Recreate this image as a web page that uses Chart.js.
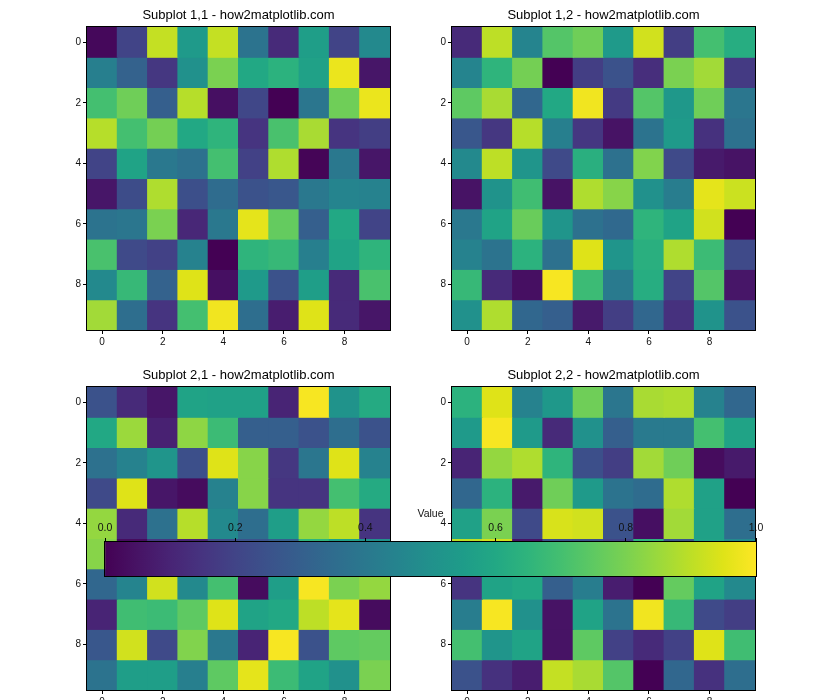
<!DOCTYPE html>
<html lang="en">
  <head>
    <meta charset="UTF-8" />
    <title>Subplots heatmap</title>
    <script src="https://cdn.jsdelivr.net/npm/chart.js@4.4.0/dist/chart.umd.min.js"></script>
    <style>
      body { margin: 0; width: 840px; height: 700px; overflow: hidden; background: #fff; position: relative; }
      canvas { position: absolute; }
    </style>
  </head>
  <body>
    <canvas id="c11" width="383" height="363" style="left:47px;top:-3px"></canvas>
    <canvas id="c12" width="383" height="363" style="left:412px;top:-3px"></canvas>
    <canvas id="c21" width="383" height="363" style="left:47px;top:357px"></canvas>
    <canvas id="c22" width="383" height="363" style="left:412px;top:357px"></canvas>
    <canvas id="cbar" width="691" height="78" style="left:85px;top:500px"></canvas>

    <script>
      // 10x10 values per subplot, row 0 at the top
      const sub11 = [
        [0.02, 0.20, 0.91, 0.54, 0.91, 0.38, 0.12, 0.56, 0.20, 0.47],
        [0.43, 0.31, 0.16, 0.50, 0.80, 0.60, 0.64, 0.57, 0.97, 0.06],
        [0.70, 0.78, 0.30, 0.89, 0.04, 0.21, 0.00, 0.39, 0.78, 0.97],
        [0.89, 0.70, 0.79, 0.60, 0.65, 0.15, 0.71, 0.87, 0.15, 0.18],
        [0.20, 0.58, 0.40, 0.37, 0.70, 0.19, 0.88, 0.01, 0.40, 0.06],
        [0.06, 0.23, 0.88, 0.24, 0.35, 0.25, 0.27, 0.40, 0.45, 0.44],
        [0.38, 0.39, 0.80, 0.11, 0.40, 0.96, 0.76, 0.30, 0.60, 0.20],
        [0.71, 0.22, 0.19, 0.44, 0.00, 0.65, 0.67, 0.43, 0.58, 0.65],
        [0.47, 0.67, 0.31, 0.95, 0.04, 0.54, 0.25, 0.56, 0.12, 0.71],
        [0.86, 0.36, 0.15, 0.70, 0.98, 0.36, 0.08, 0.95, 0.12, 0.06],
      ];
      const sub12 = [
        [0.12, 0.90, 0.45, 0.73, 0.78, 0.54, 0.93, 0.18, 0.70, 0.62],
        [0.45, 0.65, 0.79, 0.00, 0.18, 0.25, 0.13, 0.80, 0.86, 0.17],
        [0.75, 0.87, 0.33, 0.60, 0.98, 0.17, 0.73, 0.53, 0.78, 0.39],
        [0.27, 0.16, 0.89, 0.43, 0.16, 0.05, 0.38, 0.54, 0.14, 0.37],
        [0.47, 0.90, 0.52, 0.22, 0.63, 0.37, 0.81, 0.22, 0.07, 0.05],
        [0.05, 0.51, 0.69, 0.05, 0.88, 0.82, 0.50, 0.42, 0.96, 0.92],
        [0.40, 0.58, 0.77, 0.52, 0.37, 0.34, 0.65, 0.58, 0.93, 0.00],
        [0.44, 0.38, 0.64, 0.37, 0.95, 0.52, 0.63, 0.88, 0.68, 0.22],
        [0.67, 0.12, 0.04, 0.99, 0.68, 0.41, 0.62, 0.20, 0.73, 0.06],
        [0.50, 0.88, 0.33, 0.30, 0.07, 0.18, 0.33, 0.14, 0.51, 0.25],
      ];
      const sub21 = [
        [0.25, 0.12, 0.06, 0.58, 0.57, 0.57, 0.10, 0.99, 0.51, 0.61],
        [0.60, 0.85, 0.09, 0.83, 0.68, 0.30, 0.30, 0.25, 0.36, 0.25],
        [0.37, 0.44, 0.52, 0.24, 0.95, 0.82, 0.16, 0.39, 0.95, 0.44],
        [0.22, 0.95, 0.06, 0.03, 0.44, 0.82, 0.15, 0.15, 0.70, 0.61],
        [0.84, 0.12, 0.37, 0.89, 0.47, 0.36, 0.56, 0.84, 0.90, 0.15],
        [0.82, 0.03, 0.16, 0.10, 0.23, 0.25, 0.30, 0.65, 0.57, 0.50],
        [0.33, 0.45, 0.93, 0.47, 0.70, 0.03, 0.56, 0.99, 0.80, 0.84],
        [0.10, 0.69, 0.68, 0.75, 0.95, 0.58, 0.60, 0.90, 0.96, 0.03],
        [0.27, 0.93, 0.22, 0.81, 0.40, 0.10, 0.99, 0.25, 0.75, 0.76],
        [0.38, 0.56, 0.56, 0.43, 0.75, 0.96, 0.68, 0.58, 0.50, 0.80],
      ];
      const sub22 = [
        [0.64, 0.95, 0.44, 0.53, 0.78, 0.39, 0.87, 0.88, 0.44, 0.33],
        [0.54, 0.99, 0.54, 0.12, 0.50, 0.30, 0.41, 0.41, 0.70, 0.58],
        [0.10, 0.84, 0.88, 0.65, 0.24, 0.18, 0.86, 0.78, 0.03, 0.07],
        [0.33, 0.64, 0.07, 0.78, 0.54, 0.38, 0.35, 0.88, 0.57, 0.00],
        [0.57, 0.80, 0.22, 0.94, 0.93, 0.25, 0.04, 0.86, 0.57, 0.36],
        [0.90, 0.93, 0.05, 0.25, 0.25, 0.20, 0.65, 0.27, 0.58, 0.47],
        [0.15, 0.58, 0.60, 0.30, 0.42, 0.08, 0.00, 0.76, 0.58, 0.47],
        [0.42, 0.99, 0.50, 0.05, 0.58, 0.38, 0.98, 0.67, 0.22, 0.18],
        [0.70, 0.52, 0.58, 0.05, 0.75, 0.19, 0.12, 0.19, 0.95, 0.69],
        [0.25, 0.14, 0.08, 0.91, 0.87, 0.73, 0.00, 0.33, 0.14, 0.36],
      ];
      const axisTicks = [0, 2, 4, 6, 8];
      const cbarTicks = [0, 0.2, 0.4, 0.6, 0.8, 1.0];

      // viridis colormap, 21 stops
      const VIRIDIS = [
        "#440154", "#471365", "#482475", "#463480", "#414487", "#3b528b", "#355f8d",
        "#2f6c8e", "#2a788e", "#25848e", "#21918c", "#1e9c89", "#22a884", "#2fb47c",
        "#44bf70", "#5ec962", "#7ad151", "#9bd93c", "#bddf26", "#dfe318", "#fde725",
      ];
      const hex = (h) => [1, 3, 5].map((i) => parseInt(h.substr(i, 2), 16));
      function viridis(t) {
        t = Math.max(0, Math.min(1, t));
        const p = t * 20;
        const i = Math.min(19, Math.floor(p));
        const f = p - i;
        const a = hex(VIRIDIS[i]), b = hex(VIRIDIS[i + 1]);
        const c = a.map((v, k) => Math.round(v + (b[k] - v) * f));
        return `rgb(${c[0]},${c[1]},${c[2]})`;
      }

      const FONT = "'Liberation Sans', Arial, sans-serif";
      Chart.defaults.font.family = FONT;
      Chart.defaults.color = "#111";

      // black frame round the plot area
      const frame = {
        id: "frame",
        afterDraw(chart) {
          const a = chart.chartArea;
          const ctx = chart.ctx;
          ctx.save();
          ctx.strokeStyle = "#000";
          ctx.lineWidth = 1;
          ctx.strokeRect(Math.round(a.left) - 0.5, Math.round(a.top) - 0.5,
            Math.round(a.right - a.left) + 1, Math.round(a.bottom - a.top) + 1);
          ctx.restore();
        },
      };

      const tickAxis = (extra) => Object.assign({
        type: "linear",
        offset: false,
        min: -0.5,
        max: 9.5,
        afterBuildTicks: (ax) => { ax.ticks = axisTicks.map((v) => ({ value: v })); },
        grid: { display: true, offset: false, drawOnChartArea: false, drawTicks: true, tickLength: 4, tickColor: "#000" },
        border: { display: true, color: "#000" },
        ticks: { font: { size: 10 }, padding: 2, maxRotation: 0 },
      }, extra);

      function heatmap(id, title, grid) {
        const datasets = grid.map((row, r) => ({
          data: row.map((v, c) => ({ x: c, y: [r - 0.5, r + 0.5] })),
          backgroundColor: row.map((v) => viridis(v)),
          grouped: false,
          barPercentage: 1,
          categoryPercentage: 1,
          borderWidth: 0,
          inflateAmount: 0.5,
        }));
        new Chart(document.getElementById(id), {
          type: "bar",
          data: { datasets },
          options: {
            responsive: false,
            animation: false,
            layout: { padding: 0 },
            plugins: {
              legend: { display: false },
              tooltip: { enabled: false },
              title: {
                display: true,
                text: title,
                color: "#000",
                font: { size: 13, weight: "normal", lineHeight: "14px" },
                padding: { top: 11, bottom: 5 },
              },
            },
            scales: {
              x: tickAxis({ afterFit: (s) => { s.height = 30; } }),
              y: tickAxis({ reverse: true, afterFit: (s) => { s.width = 40; } }),
              // empty spacer on the right so the title centres over the plot
              y2: {
                position: "right",
                grid: { display: false },
                border: { display: false },
                ticks: { display: false },
                afterFit: (s) => { s.width = 40; },
              },
            },
          },
          plugins: [frame],
        });
      }

      heatmap("c11", "Subplot 1,1 - how2matplotlib.com", sub11);
      heatmap("c12", "Subplot 1,2 - how2matplotlib.com", sub12);
      heatmap("c21", "Subplot 2,1 - how2matplotlib.com", sub21);
      heatmap("c22", "Subplot 2,2 - how2matplotlib.com", sub22);

      // horizontal colorbar
      new Chart(document.getElementById("cbar"), {
        type: "bar",
        data: {
          labels: [""],
          datasets: [{
            data: [[0, 1]],
            barPercentage: 1,
            categoryPercentage: 1,
            borderWidth: 0,
            backgroundColor: (ctx) => {
              const a = ctx.chart.chartArea;
              if (!a) return "#21918c";
              const g = ctx.chart.ctx.createLinearGradient(a.left, 0, a.right, 0);
              VIRIDIS.forEach((c, i) => g.addColorStop(i / 20, c));
              return g;
            },
          }],
        },
        options: {
          indexAxis: "y",
          responsive: false,
          animation: false,
          layout: { padding: { left: 20, right: 20, top: 0, bottom: 2 } },
          plugins: { legend: { display: false }, tooltip: { enabled: false } },
          scales: {
            x: {
              type: "linear",
              position: "top",
              min: 0,
              max: 1,
              afterBuildTicks: (ax) => { ax.ticks = cbarTicks.map((v) => ({ value: v })); },
              afterFit: (s) => { s.height = 42; },
              grid: { display: true, drawOnChartArea: false, drawTicks: true, tickLength: 4, tickColor: "#000" },
              border: { display: false },
              ticks: { font: { size: 10.5 }, padding: 4, maxRotation: 0, callback: (v) => Number(v).toFixed(1) },
              title: { display: true, text: "Value", font: { size: 10.5 }, padding: { top: 8, bottom: 0 } },
            },
            y: { type: "category", display: false },
          },
        },
        plugins: [frame],
      });
    </script>
  </body>
</html>
